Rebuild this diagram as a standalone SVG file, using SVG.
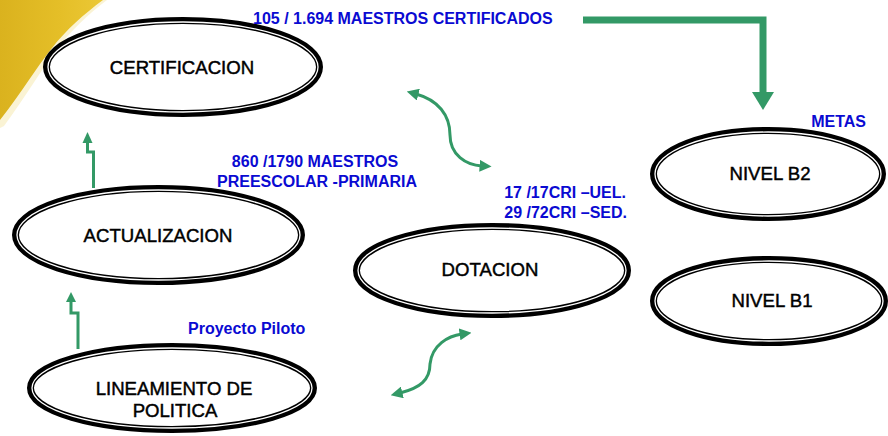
<svg xmlns="http://www.w3.org/2000/svg" width="888" height="436" viewBox="0 0 888 436">
<defs>
<linearGradient id="gold" x1="0" y1="0" x2="1" y2="0">
<stop offset="0" stop-color="#DAB21E"/>
<stop offset="0.6" stop-color="#E5BF28"/>
<stop offset="1" stop-color="#EBC836"/>
</linearGradient>
<marker id="ah" viewBox="0 0 10 10" refX="2" refY="5" markerWidth="4" markerHeight="4" orient="auto-start-reverse" markerUnits="strokeWidth">
<path d="M0,0 L10,5 L0,10 Z" fill="#339966"/>
</marker>
<style>
.o{fill:#fff;stroke:#000;stroke-width:7}
.i{fill:none;stroke:#fff;stroke-width:1.3}
.lbl{font-family:"Liberation Sans",Arial,sans-serif;font-size:18.6px;fill:#000;stroke:#000;stroke-width:0.45;text-anchor:middle}
.note{font-family:"Liberation Sans",Arial,sans-serif;font-size:16px;font-weight:bold;fill:#0A0AD2}
.g{fill:none;stroke:#339966;stroke-width:3}
.gh{fill:#339966}
</style>
</defs>
<rect width="888" height="436" fill="#fff"/>
<path d="M0,0 L107,0 C88,14 70,32 56,50 C40,72 26,96 4,126 L0,128 Z" fill="#F7EBB8" opacity="0.6"/>
<path d="M0,0 L103,0 C84,14 66,30 52,48 C36,68 22,92 0,120 Z" fill="url(#gold)"/>

<g id="connectors">
<polyline points="583,20 763,20 763,93" fill="none" stroke="#339966" stroke-width="7"/>
<polygon points="752,92 774,92 763,110" class="gh"/>
<polyline points="93.5,188 93.5,152 87.5,152 87.5,142" class="g"/>
<polygon points="87.5,132 82.5,143 92.5,143" class="gh"/>
<polyline points="78,349 78,313 71,313 71,301" class="g"/>
<polygon points="71,292 66,302 76,302" class="gh"/>
<path d="M416,94 C438,100 450,115 450,135 C450,155 466,165 482,166" class="g" marker-start="url(#ah)" marker-end="url(#ah)"/>
<path d="M400,393 C420,388 430,380 430,364 C432,345 448,336 462,334" class="g" marker-start="url(#ah)" marker-end="url(#ah)"/>
</g>

<g id="certificacion">
<ellipse cx="183" cy="67" rx="136.5" ry="46.5" class="o"/>
<ellipse cx="183" cy="67" rx="135" ry="45" class="i"/>
<text x="182" y="74" class="lbl">CERTIFICACION</text>
</g>
<g id="actualizacion">
<ellipse cx="158.5" cy="235" rx="143" ry="46.5" class="o"/>
<ellipse cx="158.5" cy="235" rx="141.5" ry="45" class="i"/>
<text x="158" y="242" class="lbl">ACTUALIZACION</text>
</g>
<g id="lineamiento">
<ellipse cx="172" cy="388" rx="141.5" ry="41.5" class="o"/>
<ellipse cx="172" cy="388" rx="140" ry="40" class="i"/>
<text x="174" y="395" class="lbl">LINEAMIENTO DE</text>
<text x="175" y="417" class="lbl">POLITICA</text>
</g>
<g id="dotacion">
<ellipse cx="492" cy="270.5" rx="135.5" ry="44" class="o"/>
<ellipse cx="492" cy="270.5" rx="134" ry="42.5" class="i"/>
<text x="490" y="276" class="lbl">DOTACION</text>
</g>
<g id="nivelb2">
<ellipse cx="768" cy="174" rx="114.5" ry="43.5" class="o"/>
<ellipse cx="768" cy="174" rx="113" ry="42" class="i"/>
<text x="770" y="180" class="lbl">NIVEL B2</text>
</g>
<g id="nivelb1">
<ellipse cx="769" cy="301" rx="115.5" ry="41.5" class="o"/>
<ellipse cx="769" cy="301" rx="114" ry="40" class="i"/>
<text x="772" y="307" class="lbl">NIVEL B1</text>
</g>

<g id="notes">
<text x="253" y="24" class="note">105 / 1.694 MAESTROS CERTIFICADOS</text>
<text x="315" y="167" class="note" text-anchor="middle">860 /1790 MAESTROS</text>
<text x="317" y="187" class="note" text-anchor="middle">PREESCOLAR -PRIMARIA</text>
<text x="866" y="127" class="note" text-anchor="end">METAS</text>
<text x="626" y="198" class="note" text-anchor="end">17 /17CRI –UEL.</text>
<text x="627" y="218" class="note" text-anchor="end">29 /72CRI –SED.</text>
<text x="188" y="334" class="note">Proyecto Piloto</text>
</g>
</svg>
